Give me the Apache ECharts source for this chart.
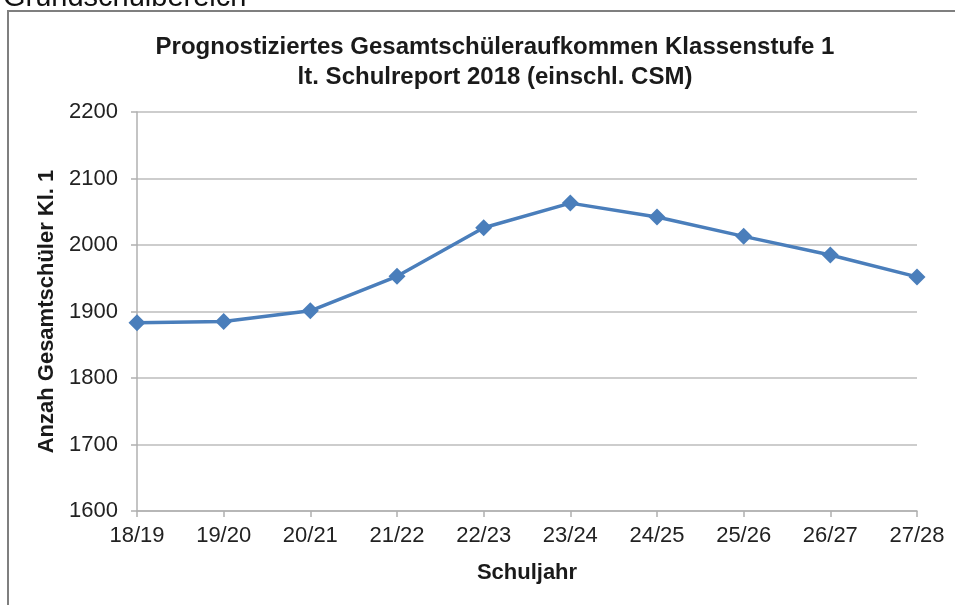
<!DOCTYPE html>
<html>
<head>
<meta charset="utf-8">
<script src="https://cdn.jsdelivr.net/npm/echarts@6/dist/echarts.min.js"></script>
<style>
  html, body { margin: 0; padding: 0; background: #fff; }
  #chart { width: 955px; height: 605px; }
</style>
</head>
<body>
<div id="chart"></div>
<script>
const schuljahre = ["18/19", "19/20", "20/21", "21/22", "22/23", "23/24", "24/25", "25/26", "26/27", "27/28"];
const schueler = [1883, 1885, 1901, 1953, 2026, 2063, 2042, 2013, 1985, 1952];
const titelZeilen = ["Prognostiziertes Gesamtschüleraufkommen Klassenstufe 1", "lt. Schulreport 2018 (einschl. CSM)"];

const chart = echarts.init(document.getElementById("chart"));
const font = "'Liberation Sans', Arial, sans-serif";

chart.setOption({
  animation: false,
  title: {
    text: titelZeilen.join("\n"),
    left: 490,
    textAlign: "center",
    top: 27,
    textStyle: { fontFamily: font, fontSize: 24, fontWeight: "bold", color: "#1a1a1a", lineHeight: 30 },
  },
  graphic: [
    {
      type: "text",
      x: 3,
      y: 12,
      style: { text: "Grundschulbereich", fontFamily: font, fontSize: 29, fill: "#111", verticalAlign: "bottom" },
    },
    {
      type: "polyline",
      shape: { points: [[8, 605], [8, 11], [955, 11]] },
      style: { stroke: "#7f7f7f", lineWidth: 2, fill: null },
    },
  ],
  grid: { left: 137, right: 38, top: 112, bottom: 94 },
  xAxis: {
    type: "category",
    data: schuljahre,
    boundaryGap: false,
    name: "Schuljahr",
    nameLocation: "middle",
    nameGap: 51,
    nameTextStyle: { fontFamily: font, fontSize: 22, fontWeight: "bold", color: "#1a1a1a" },
    axisLine: { lineStyle: { color: "#b0b0b0", width: 1.5 } },
    axisTick: { alignWithLabel: true, length: 6, lineStyle: { color: "#b0b0b0", width: 1.5 } },
    axisLabel: { fontFamily: font, fontSize: 22, color: "#222", margin: 14 },
  },
  yAxis: {
    type: "value",
    min: 1600,
    max: 2200,
    interval: 100,
    name: "Anzah Gesamtschüler Kl. 1",
    nameLocation: "middle",
    nameGap: 78,
    nameTextStyle: { fontFamily: font, fontSize: 22, fontWeight: "bold", color: "#1a1a1a" },
    axisLine: { show: true, lineStyle: { color: "#b0b0b0", width: 1.5 } },
    axisTick: { show: true, length: 6, lineStyle: { color: "#b0b0b0", width: 1.5 } },
    axisLabel: { fontFamily: font, fontSize: 22, color: "#222", margin: 19, formatter: (v) => String(v) },
    splitLine: { lineStyle: { color: "#bdbdbd", width: 1.5 } },
  },
  series: [
    {
      type: "line",
      data: schueler,
      symbol: "diamond",
      symbolSize: 17,
      lineStyle: { color: "#4a7ebb", width: 3.5 },
      itemStyle: { color: "#4a7ebb" },
    },
  ],
});
</script>
</body>
</html>
